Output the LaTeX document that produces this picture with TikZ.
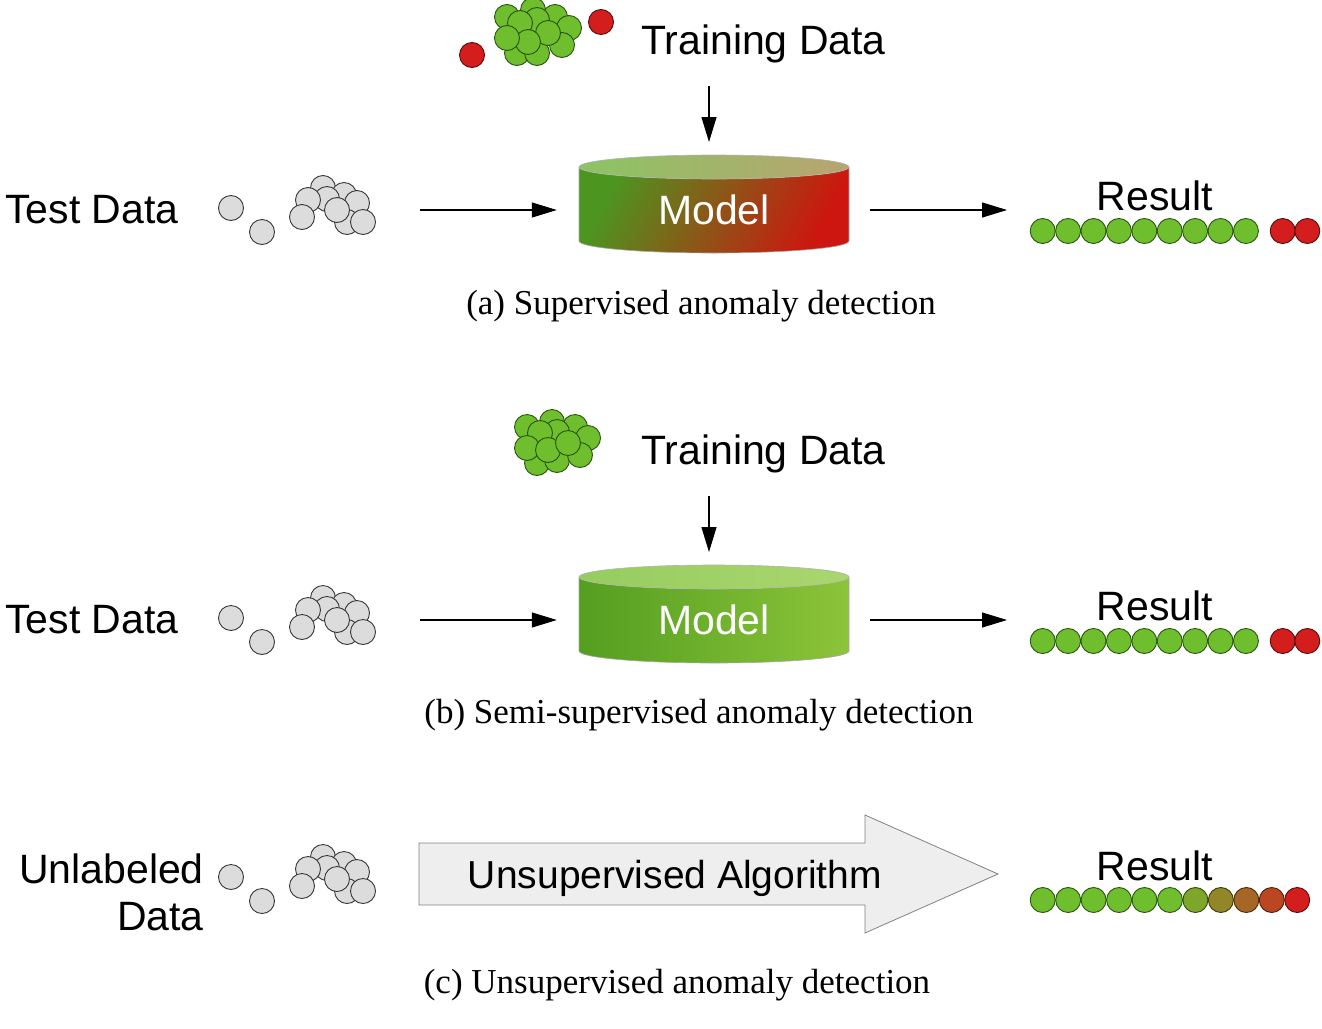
\documentclass[tikz,border=0pt]{standalone}
\usepackage{fontspec}
\setmainfont{Liberation Serif}
\newfontfamily\arialf{Liberation Sans}
\usetikzlibrary{arrows.meta}
\definecolor{gfill}{RGB}{110,190,45}
\definecolor{gline}{RGB}{40,85,15}
\definecolor{rfill}{RGB}{212,30,30}
\definecolor{rline}{RGB}{90,10,10}
\definecolor{tfill}{RGB}{220,220,220}
\definecolor{tline}{RGB}{55,55,55}
\definecolor{cAg}{RGB}{76,150,32}
\definecolor{cAm}{RGB}{128,112,34}
\definecolor{cAr}{RGB}{205,22,15}
\definecolor{cAtl}{RGB}{140,196,100}
\definecolor{cAtr}{RGB}{184,164,112}
\definecolor{cBl}{RGB}{84,158,32}
\definecolor{cBr}{RGB}{140,196,58}
\definecolor{cBtl}{RGB}{150,204,96}
\definecolor{cBtr}{RGB}{170,214,110}
\definecolor{arrfill}{RGB}{238,238,238}
\definecolor{arrline}{RGB}{130,130,130}
\newcommand\mytestballs{%
  \node[gball] (t1) at (231,208) {};
  \node[gball] (t2) at (262,232) {};
  \foreach \x/\y [count=\i from 3] in {323/188,344/195,357/203,327/199,308/200,347/222,302/217,337/210,363/222}
    \node[gball] (t\i) at (\x,\y) {};
}
\newcommand\myresultballs{%
  \foreach \i in {0,...,8} \node[grn] (r\i) at ({1042.7+25.4*\i},231) {};
  \node[rd] (r9) at (1282.7,231) {};
  \node[rd] (r10) at (1307.3,231) {};
}
\begin{document}
\begin{tikzpicture}[x=1pt,y=-1pt,
  ball/.style={circle, inner sep=0pt, minimum size=25pt, line width=0.9pt},
  gball/.style={ball, draw=tline, fill=tfill},
  grn/.style={ball, draw=gline, fill=gfill},
  rd/.style={ball, draw=rline, fill=rfill},
  lbl/.style={font=\arialf\fontsize{41}{48}\selectfont, inner sep=0pt},
  captext/.style={font=\fontsize{35}{42}\selectfont, inner sep=0pt, anchor=base},
  arr/.style={line width=1.1pt, -{Triangle[length=25pt,width=15pt]}},
  modelbox/.style={minimum width=270pt, minimum height=60pt, inner sep=0pt, text=white, font=\arialf\fontsize{41}{48}\selectfont},
]
\useasboundingbox (0,0) rectangle (1322,1028);

% ================= (a) =================
% training data
\node[rd] (ta1) at (472,55) {};
\node[rd] (ta2) at (601,22) {};
\foreach \x/\y [count=\i] in {533/10,507/17,555/17,569/28,537/20,520/23,517/53,537/53,562/45,548/33,528/42,507/38}
  \node[grn] (tag\i) at (\x,\y) {};
\node[lbl, anchor=base west] (trainA) at (641,54) {Training Data};
\coordinate (downA) at (709,86);
\coordinate (downAend) at (709,142);
\draw[arr] (downA) -- (downAend);
% test data
\node[lbl, anchor=base west] (testA) at (5,223) {Test Data};
\begin{scope}[name prefix=a-]
  \mytestballs
\end{scope}
% model
\shade[left color=cAg, middle color=cAm, right color=cAr, shading angle=62]
  (579,167) -- (579,241) arc[start angle=180,end angle=0,x radius=135,y radius=12]
  -- (849,167) arc[start angle=0,end angle=180,x radius=135,y radius=12] -- cycle;
\draw[black!35, line width=0.6pt]
  (579,167) -- (579,241) arc[start angle=180,end angle=0,x radius=135,y radius=12] -- (849,167);
\shade[left color=cAtl, right color=cAtr, draw=black!30, line width=0.6pt]
  (714,167) ellipse[x radius=135, y radius=12];
\node[modelbox] (modelA) at (714,210) {Model};
\coordinate (inA) at (420,210);
\coordinate (outA) at (1007,210);
\draw[arr, shorten >=22pt] (inA) -- (modelA.west);
\draw[arr, shorten <=21pt] (modelA.east) -- (outA);
% result
\node[lbl, anchor=base] (resA) at (1155,210) {Result};
\begin{scope}[name prefix=a-]
  \myresultballs
\end{scope}
\node[captext] (capA) at (701,314) {(a) Supervised anomaly detection};

% ================= (b) =================
\foreach \x/\y [count=\i] in {527/427,552/422,575/427,588/438,557/432,540/433,537/463,557/460,580/455,527/448,548/450,568/443}
  \node[grn] (tbg\i) at (\x,\y) {};
\node[lbl, anchor=base west] (trainB) at (641,464) {Training Data};
\coordinate (downB) at (709,496);
\coordinate (downBend) at (709,552);
\draw[arr] (downB) -- (downBend);
\node[lbl, anchor=base west] (testB) at (5,633) {Test Data};
\begin{scope}[shift={(0,410)}, name prefix=b-]
  \mytestballs
\end{scope}
\shade[left color=cBl, right color=cBr]
  (579,577) -- (579,651) arc[start angle=180,end angle=0,x radius=135,y radius=12]
  -- (849,577) arc[start angle=0,end angle=180,x radius=135,y radius=12] -- cycle;
\draw[black!35, line width=0.6pt]
  (579,577) -- (579,651) arc[start angle=180,end angle=0,x radius=135,y radius=12] -- (849,577);
\shade[left color=cBtl, right color=cBtr, draw=black!30, line width=0.6pt]
  (714,577) ellipse[x radius=135, y radius=12];
\node[modelbox] (modelB) at (714,620) {Model};
\coordinate (inB) at (420,620);
\coordinate (outB) at (1007,620);
\draw[arr, shorten >=22pt] (inB) -- (modelB.west);
\draw[arr, shorten <=21pt] (modelB.east) -- (outB);
\node[lbl, anchor=base] (resB) at (1155,620) {Result};
\begin{scope}[shift={(0,410)}, name prefix=b-]
  \myresultballs
\end{scope}
\node[captext] (capB) at (699,723) {(b) Semi-supervised anomaly detection};

% ================= (c) =================
\node[lbl, anchor=base east] (unlab1) at (204,883) {Unlabeled};
\node[lbl, anchor=base east] (unlab2) at (204,930) {Data};
\begin{scope}[shift={(0,669)}, name prefix=c-]
  \mytestballs
\end{scope}
\draw[fill=arrfill, draw=arrline, line width=0.8pt]
  (419,843) -- (865,843) -- (865,815) -- (998,874) -- (865,933) -- (865,905) -- (419,905) -- cycle;
\node[font=\arialf\fontsize{39}{46}\selectfont, inner sep=0pt, anchor=base] (algo) at (675,888) {Unsupervised Algorithm};
\node[lbl, anchor=base] (resC) at (1155,880) {Result};
\foreach \m [count=\i from 0] in {100,100,100,100,100,100,85,65,45,25,0}
  \node[ball, fill=gfill!\m!rfill, draw=gline!\m!rline] (rc\i) at ({1042.7+25.45*\i},900) {};
\node[captext] (capC) at (677,993) {(c) Unsupervised anomaly detection};
\end{tikzpicture}
\end{document}
